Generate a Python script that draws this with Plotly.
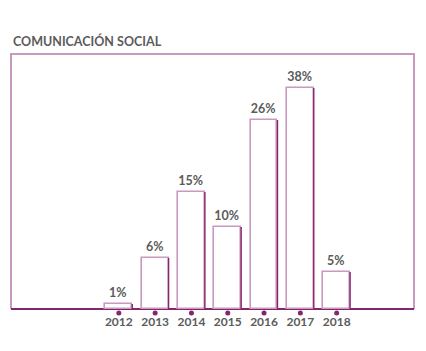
import plotly.graph_objects as go

# Data
years = [2012, 2013, 2014, 2015, 2016, 2017, 2018]
tick_labels = ["2012", "2013", "2014", "2015", "2016", "2017", "2018"]
bar_values = [5, 51, 117, 82, 189, 221, 37]        # relative bar heights as drawn
bar_labels = ["1%", "6%", "15%", "10%", "26%", "38%", "5%"]
title_text = "COMUNICACIÓN SOCIAL"

LIGHT = "#c99ac0"
DARK = "#86246f"
GREY = "#5b5b5b"
BW = 0.74
Y0, Y1 = -6, 255

fig = go.Figure()

fig.add_trace(go.Bar(
    x=years, y=bar_values, width=BW,
    marker=dict(color="white", line=dict(color=LIGHT, width=1.6)),
    text=bar_labels, textposition="outside",
    textfont=dict(family="Lato", size=12.5, color=GREY, weight=700),
    cliponaxis=False, hoverinfo="skip",
))

# darker right edges of the bars (derived from data)
ex, ey = [], []
for x, v in zip(years, bar_values):
    ex += [x + BW / 2, x + BW / 2, None]
    ey += [0, v, None]
fig.add_trace(go.Scatter(x=ex, y=ey, mode="lines",
                         line=dict(color=DARK, width=1.4),
                         hoverinfo="skip", cliponaxis=False))

# dots under the axis
fig.add_trace(go.Scatter(x=years, y=[-4] * len(years), mode="markers",
                         marker=dict(color=DARK, size=5),
                         hoverinfo="skip", cliponaxis=False))

yb = (0 - Y0) / (Y1 - Y0)
frame_path = f"M 0,{yb} L 0,1 L 1,1 L 1,{yb}"

fig.update_layout(
    width=426, height=351,
    margin=dict(l=11, r=12, t=54, b=351 - 54 - (Y1 - Y0)),
    plot_bgcolor="white", paper_bgcolor="white",
    showlegend=False, bargap=0,
    shapes=[dict(type="path", path=frame_path, xref="paper", yref="paper",
                 line=dict(color=LIGHT, width=2), layer="below")],
    annotations=[dict(text=title_text, xref="paper", yref="paper",
                      x=0, y=1, xanchor="left", yanchor="bottom", yshift=3,
                      showarrow=False,
                      font=dict(family="Lato", size=12.5, color=GREY, weight=700))],
)
fig.update_xaxes(range=[2009.03, 2020.13], tickvals=years, ticktext=tick_labels,
                 showgrid=False, zeroline=False, showline=False,
                 ticks="", ticklabelstandoff=-2,
                 tickfont=dict(family="Lato", size=12, color=GREY, weight=700))
fig.update_yaxes(range=[Y0, Y1], showgrid=False, zeroline=True,
                 zerolinecolor=DARK, zerolinewidth=1.5,
                 showticklabels=False, showline=False)

fig.write_html("out.html")
